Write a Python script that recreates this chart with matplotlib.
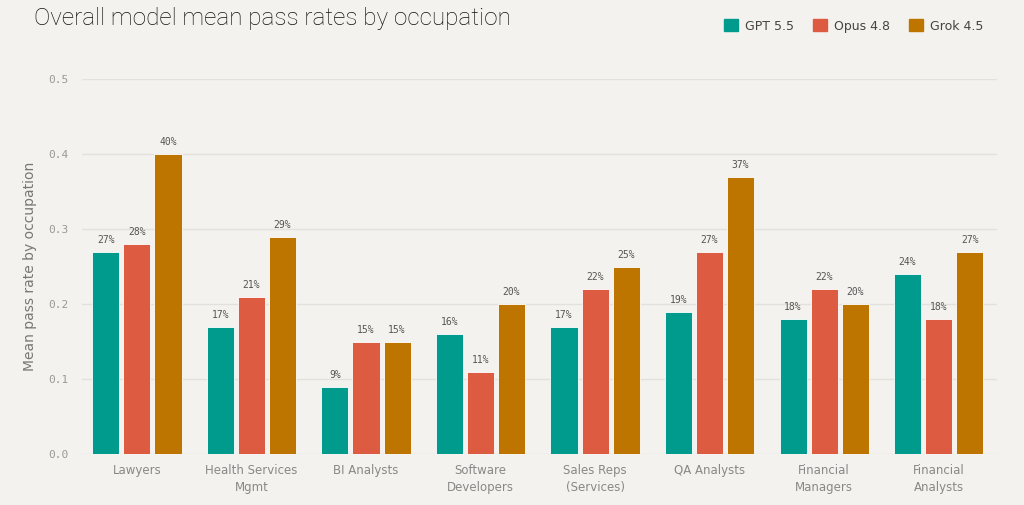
import matplotlib.pyplot as plt
import numpy as np

occupations = ["Lawyers", "Health Services\nMgmt", "BI Analysts", "Software\nDevelopers",
               "Sales Reps\n(Services)", "QA Analysts", "Financial\nManagers", "Financial\nAnalysts"]
gpt = [0.27, 0.17, 0.09, 0.16, 0.17, 0.19, 0.18, 0.24]
opus = [0.28, 0.21, 0.15, 0.11, 0.22, 0.27, 0.22, 0.18]
grok = [0.40, 0.29, 0.15, 0.20, 0.25, 0.37, 0.20, 0.27]
models = ["GPT 5.5", "Opus 4.8", "Grok 4.5"]
colors = ["#009B8C", "#DD5B40", "#BD7500"]

bg = "#F3F2EE"
fig = plt.figure(figsize=(10.24, 5.05), dpi=100, facecolor=bg)
ax = fig.add_axes([82/1024, 1-454/505, (997-82)/1024, (454-79)/505], facecolor=bg)

x = np.arange(len(occupations))
w = 0.236
step = 0.271
for k, (vals, c, name) in enumerate(zip([gpt, opus, grok], colors, models)):
    pos = x + (k - 1) * step
    ax.bar(pos, vals, width=w, color=c, edgecolor="white", linewidth=0.6,
           label=name, zorder=3)
    for xi, v in zip(pos, vals):
        ax.text(xi, v + 0.009, f"{round(v*100)}%", ha="center", va="bottom",
                fontsize=7, family="DejaVu Sans Mono", color="#555555")

ax.set_xlim(-0.48, 7.51)
ax.set_ylim(0, 0.5)
ticks = [0.0, 0.1, 0.2, 0.3, 0.4, 0.5]
ax.set_yticks(ticks)
ax.set_yticklabels([f"{t:.1f}" for t in ticks],
                   family="DejaVu Sans Mono", fontsize=8, color="#999999")
ax.set_xticks(x)
ax.set_xticklabels(occupations, fontsize=8.5, color="#888888", linespacing=1.45)
ax.tick_params(axis="y", length=0, pad=10)
ax.tick_params(axis="x", length=0, pad=7)
ax.grid(axis="y", color="#E2E1DC", linewidth=1, zorder=0)
for s in ax.spines.values():
    s.set_visible(False)

ax.set_ylabel("Mean pass rate by occupation", fontsize=10, color="#777777", labelpad=8)

fig.text(34/1024, 1-19/505, "Overall model mean pass rates by occupation", fontsize=17.5,
         family="Roboto", fontweight="light", color="#111111", va="center", ha="left")

handles = [plt.Rectangle((0, 0), 1, 1, color=c) for c in colors]
fig.legend(handles, models, loc="center right", bbox_to_anchor=(995/1024, 1-26/505), ncol=3,
           frameon=False, fontsize=9, handlelength=1.1, handleheight=1.1,
           columnspacing=1.5, handletextpad=0.6, labelcolor="#444444")

fig.savefig("out.png", dpi=100, facecolor=bg)
